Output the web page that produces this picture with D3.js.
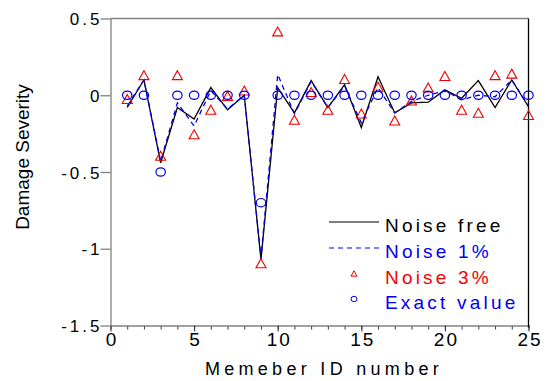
<!DOCTYPE html>
<html>
<head>
<meta charset="utf-8">
<script src="https://cdn.jsdelivr.net/npm/d3@7"></script>
<style>
  html, body { margin: 0; padding: 0; background: #fff; }
  svg { display: block; font-family: "Liberation Sans", Arial, sans-serif; }
</style>
</head>
<body>
<svg id="chart" width="550" height="381"></svg>
<script>
// member ids 1..25
const members = d3.range(1, 26);
const noiseFree = [-0.08, 0.1, -0.44, -0.08, -0.155, 0.05, -0.095, 0.0, -1.07, 0.05,
  -0.115, 0.095, -0.08, 0.07, -0.21, 0.12, -0.115, -0.05, -0.045, 0.035,
  -0.02, 0.095, -0.08, 0.1, -0.075];
const noise1 = [-0.07, 0.1, -0.43, -0.05, -0.2, 0.03, -0.09, 0.0, -1.06, 0.135,
  -0.12, 0.09, -0.08, 0.06, -0.18, 0.05, -0.115, -0.04, 0.0, 0.03,
  -0.03, 0.0, -0.01, 0.1, -0.07];
const noise3 = [-0.03, 0.125, -0.4, 0.125, -0.26, -0.1, -0.01, 0.025, -1.1, 0.41,
  -0.165, 0.015, -0.1, 0.1, -0.125, 0.05, -0.17, -0.04, 0.045, 0.12,
  -0.1, -0.12, 0.125, 0.135, -0.135];
const exact = [0, 0, -0.5, 0, 0, 0, 0, 0, -0.7, 0,
  0, 0, 0, 0, 0, 0, 0, 0, 0, 0,
  0, 0, 0, 0, 0];
const xTicks = [0, 5, 10, 15, 20, 25];
const yTicks = [0.5, 0, -0.5, -1, -1.5];
const legendLabels = ['Noise free', 'Noise 1%', 'Noise 3%', 'Exact value'];

const BLUE = '#0000f0';
const RED = '#f00000';
const GREY = '#808080';

const svg = d3.select('#chart');
const x = d3.scaleLinear().domain([0, 25]).range([110.5, 528.5]);
const y = d3.scaleLinear().domain([-1.5, 0.5]).range([325.5, 18.5]);

// minor x ticks
svg.append('g')
  .attr('transform', `translate(0,${y(-1.5)})`)
  .call(d3.axisBottom(x).tickValues(d3.range(0, 26)).tickSize(4).tickFormat(''))
  .call(g => g.selectAll('line').attr('stroke', '#333'))
  .call(g => g.select('.domain').remove());

// x axis
svg.append('g')
  .attr('transform', `translate(0,${y(-1.5)})`)
  .call(d3.axisBottom(x).tickValues(xTicks).tickSize(6).tickSizeOuter(0).tickFormat(d => d))
  .call(g => g.select('.domain').attr('stroke', GREY).attr('stroke-width', 1.3))
  .call(g => g.selectAll('line').attr('stroke', '#333'))
  .call(g => g.selectAll('text')
    .attr('fill', '#000').attr('font-size', '19px').attr('letter-spacing', '2px')
    .attr('dx', '1px').attr('y', 7).attr('dy', '0.71em'));

// y axis
svg.append('g')
  .attr('transform', `translate(${x(0)},0)`)
  .call(d3.axisLeft(y).tickValues(yTicks).tickSize(10).tickSizeOuter(0).tickFormat(d => String(d)))
  .call(g => g.select('.domain').attr('stroke', GREY).attr('stroke-width', 1.3))
  .call(g => g.selectAll('line').attr('stroke', GREY).attr('stroke-width', 1.3))
  .call(g => g.selectAll('text')
    .attr('fill', '#000').attr('font-size', '17px').attr('letter-spacing', '3px')
    .attr('x', -11).attr('dx', '3px').attr('dy', '0.36em'));

// top and right frame
svg.append('line')
  .attr('x1', x(0)).attr('x2', x(25)).attr('y1', y(0.5)).attr('y2', y(0.5))
  .attr('stroke', GREY).attr('stroke-width', 1.3);
svg.append('line')
  .attr('x1', x(25)).attr('x2', x(25)).attr('y1', y(0.5)).attr('y2', y(-1.5) + 2)
  .attr('stroke', '#000').attr('stroke-width', 1.3);

// axis titles
svg.append('text')
  .attr('x', 322).attr('y', 375)
  .attr('text-anchor', 'middle').attr('font-size', '18px').attr('letter-spacing', '4.3px')
  .attr('dx', '2px')
  .text('Memeber ID number');

svg.append('text')
  .attr('transform', 'translate(29,157) rotate(-90)')
  .attr('text-anchor', 'middle').attr('font-size', '19px')
  .text('Damage Severity');

const line = d3.line().x((d, i) => x(members[i])).y(d => y(d));

svg.append('path').datum(noiseFree)
  .attr('d', line).attr('fill', 'none').attr('stroke', '#000').attr('stroke-width', 1.3);
svg.append('path').datum(noise1)
  .attr('d', line).attr('fill', 'none').attr('stroke', BLUE).attr('stroke-width', 1.3)
  .attr('stroke-dasharray', '5,4');

function triPath(w) {
  const h = w * 0.9;
  return `M0,${-h * 0.6}L${w / 2},${h * 0.4}L${-w / 2},${h * 0.4}Z`;
}

svg.append('g').selectAll('path').data(noise3).join('path')
  .attr('transform', (d, i) => `translate(${x(members[i])},${y(d)})`)
  .attr('d', triPath(10))
  .attr('fill', 'none').attr('stroke', RED).attr('stroke-width', 1.1);

svg.append('g').selectAll('ellipse').data(exact).join('ellipse')
  .attr('cx', (d, i) => x(members[i])).attr('cy', d => y(d))
  .attr('rx', 4.7).attr('ry', 4.2)
  .attr('fill', 'none').attr('stroke', BLUE).attr('stroke-width', 1.2);

// legend
const lg = svg.append('g');
const rowY = [222, 248, 274, 299];
const textColors = ['#000', BLUE, RED, BLUE];
lg.append('line').attr('x1', 329).attr('x2', 379).attr('y1', rowY[0]).attr('y2', rowY[0])
  .attr('stroke', '#000').attr('stroke-width', 1.2);
lg.append('line').attr('x1', 329).attr('x2', 379).attr('y1', rowY[1]).attr('y2', rowY[1])
  .attr('stroke', BLUE).attr('stroke-width', 1.2).attr('stroke-dasharray', '5,4');
lg.append('path').attr('transform', `translate(354,${rowY[2]})`).attr('d', triPath(6))
  .attr('fill', 'none').attr('stroke', RED).attr('stroke-width', 1);
lg.append('ellipse').attr('cx', 354).attr('cy', rowY[3]).attr('rx', 3).attr('ry', 2.7)
  .attr('fill', 'none').attr('stroke', BLUE).attr('stroke-width', 1);
lg.selectAll('text').data(legendLabels).join('text')
  .attr('x', 385).attr('y', (d, i) => rowY[i] + 10)
  .attr('font-size', '19px').attr('letter-spacing', '3.2px')
  .attr('fill', (d, i) => textColors[i])
  .text(d => d);
</script>
</body>
</html>
